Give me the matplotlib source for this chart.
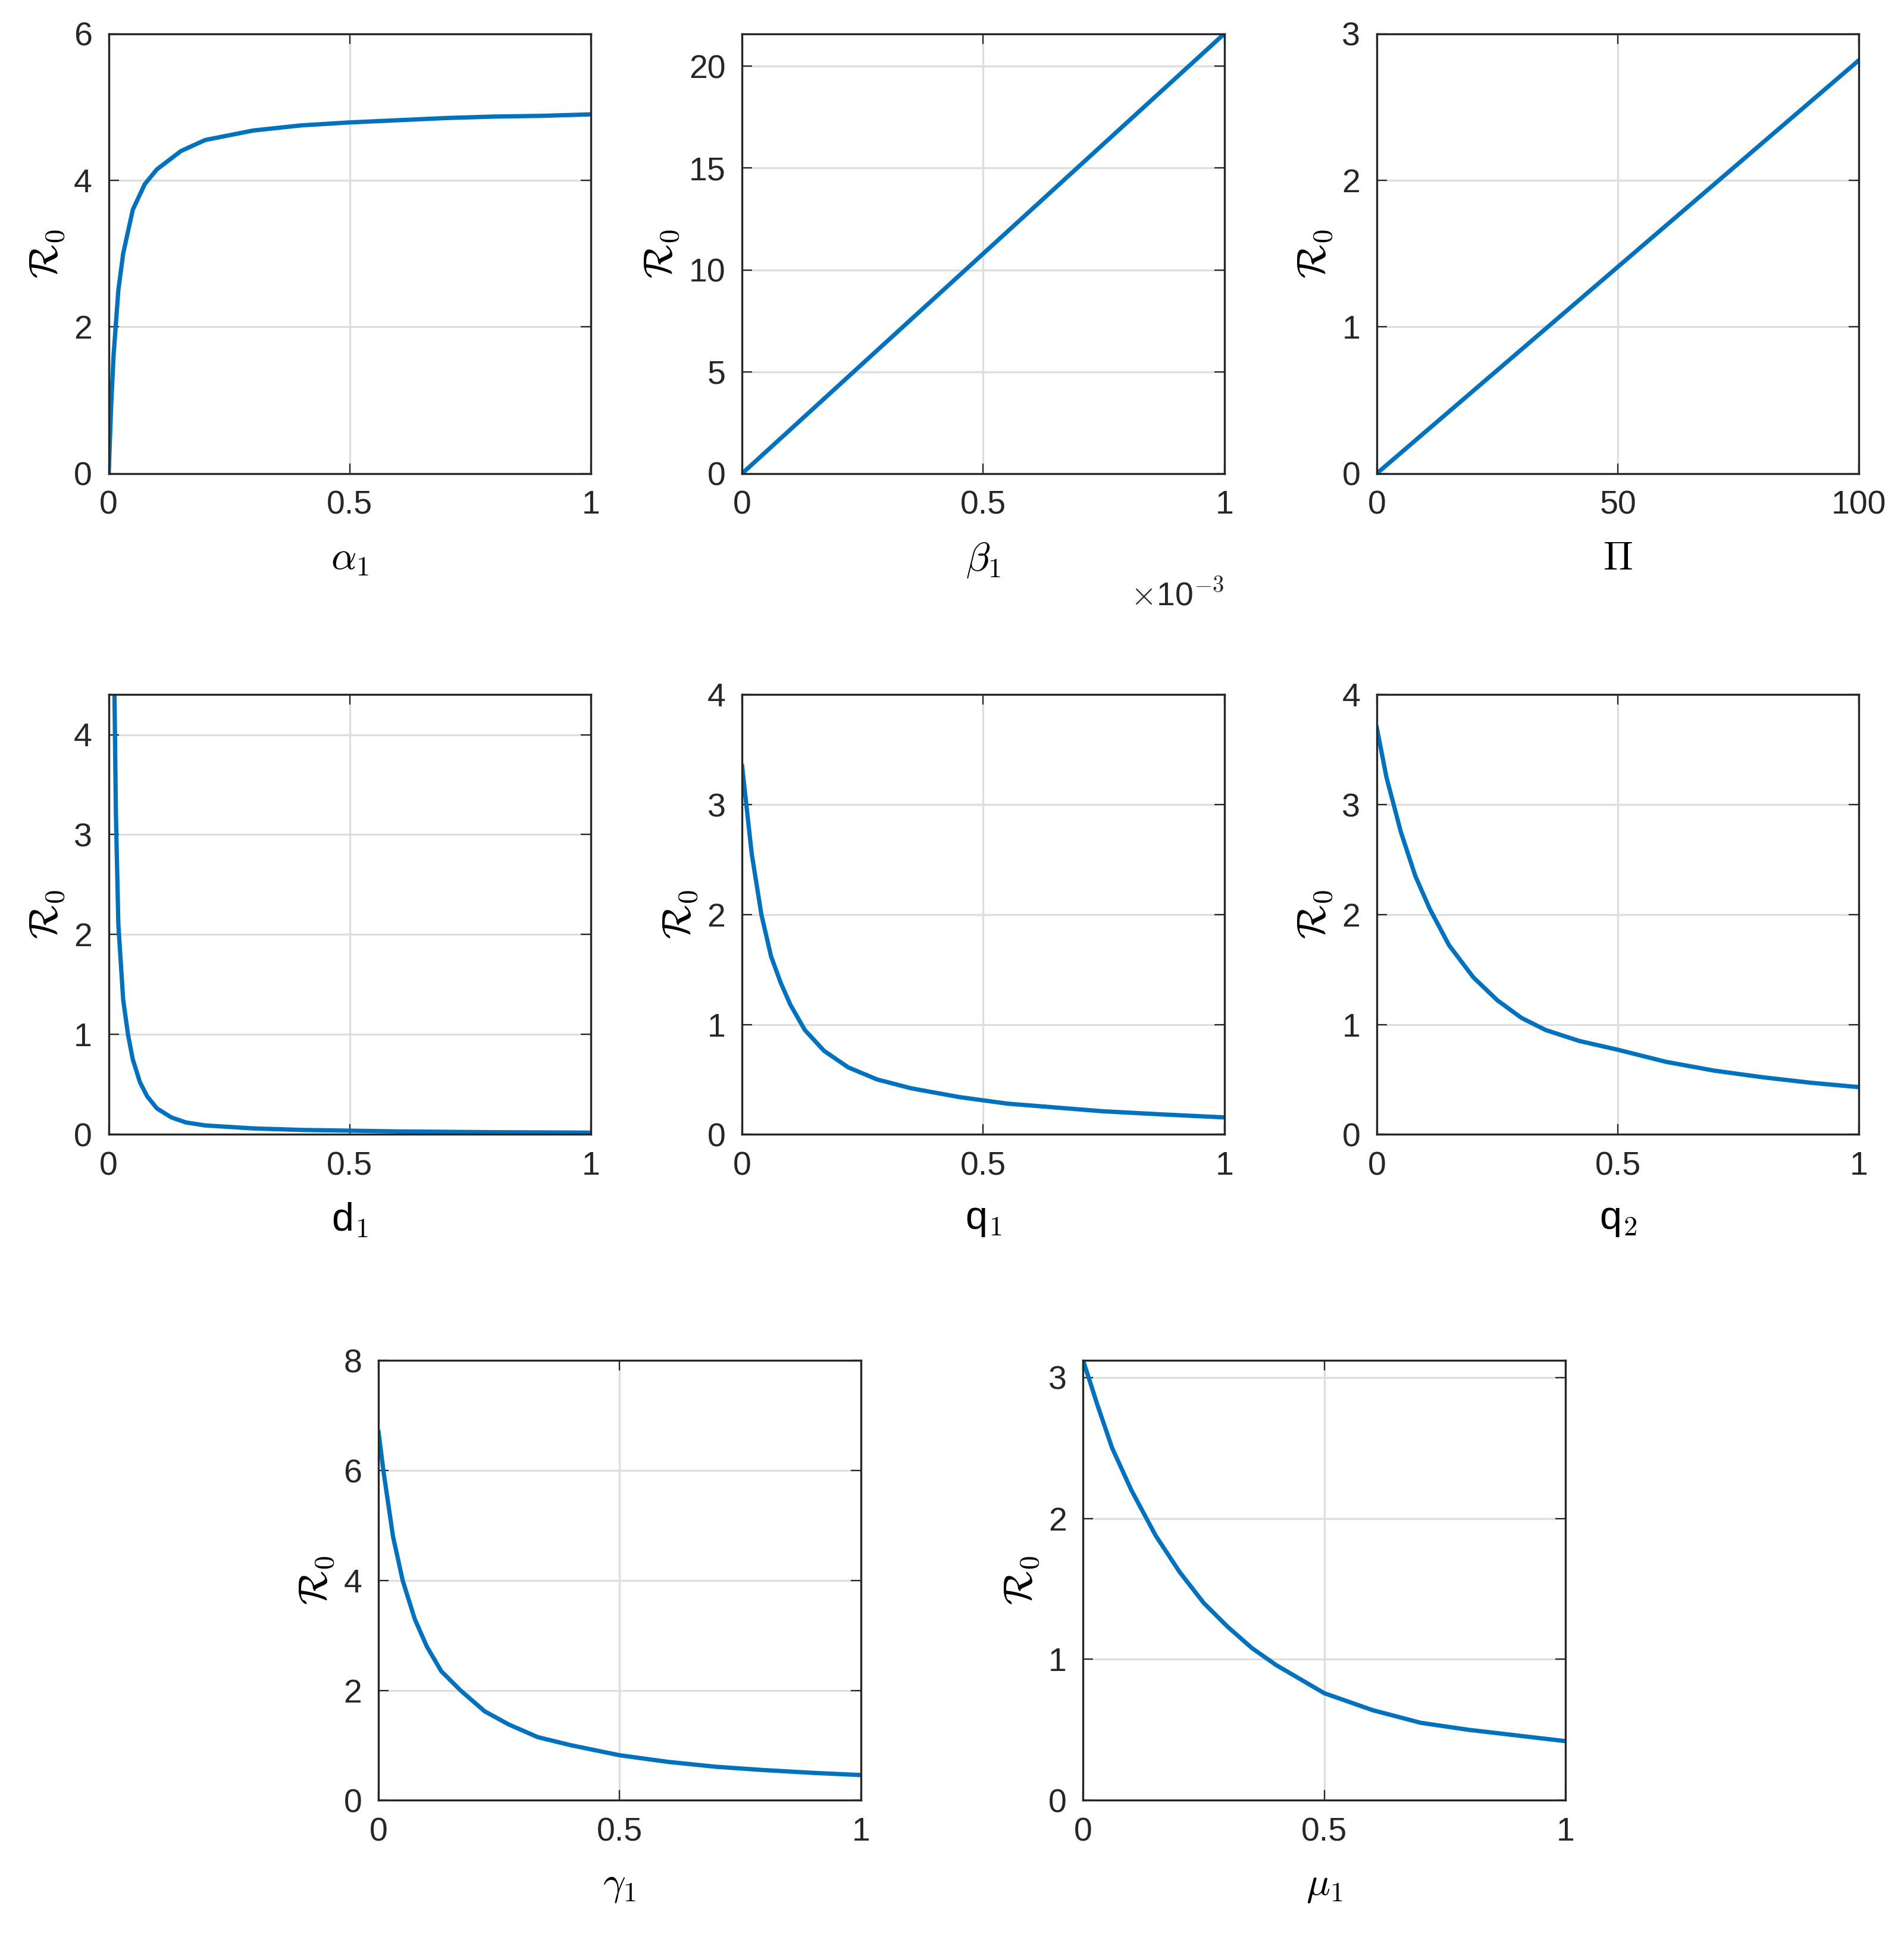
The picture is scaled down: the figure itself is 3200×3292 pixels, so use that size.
import matplotlib
matplotlib.use("Agg")
from matplotlib import pyplot as plt
from matplotlib.ticker import FuncFormatter

plt.rcParams["font.family"] = ["Liberation Sans", "DejaVu Sans"]
plt.rcParams["mathtext.fontset"] = "cm"

LINE = "#0072BD"

alpha_x = [0, 0.005, 0.01, 0.02, 0.03, 0.05, 0.075, 0.1, 0.15, 0.2, 0.3, 0.4, 0.5, 0.6, 0.7, 0.8, 0.9, 1.0]
alpha_y = [0, 0.9, 1.6, 2.5, 3.0, 3.6, 3.95, 4.15, 4.4, 4.55, 4.68, 4.75, 4.79, 4.82, 4.85, 4.87, 4.88, 4.9]

beta_x = [0, 0.001]
beta_y = [0, 21.6]

pi_x = [0, 100]
pi_y = [0, 2.82]

d_x = [0, 0.01, 0.015, 0.02, 0.03, 0.04, 0.05, 0.065, 0.08, 0.1, 0.13, 0.16, 0.2, 0.3, 0.4, 0.6, 0.8, 1.0]
d_y = [9.0, 5.2, 3.2, 2.1, 1.35, 1.0, 0.75, 0.52, 0.38, 0.26, 0.17, 0.12, 0.09, 0.06, 0.045, 0.03, 0.022, 0.018]

q1_x = [0, 0.02, 0.04, 0.06, 0.08, 0.1, 0.13, 0.17, 0.22, 0.28, 0.35, 0.45, 0.55, 0.65, 0.75, 0.88, 1.0]
q1_y = [3.35, 2.55, 2.0, 1.62, 1.38, 1.18, 0.95, 0.76, 0.61, 0.5, 0.42, 0.34, 0.28, 0.245, 0.21, 0.18, 0.155]

q2_x = [0, 0.02, 0.05, 0.08, 0.11, 0.15, 0.2, 0.25, 0.3, 0.35, 0.42, 0.5, 0.6, 0.7, 0.8, 0.9, 1.0]
q2_y = [3.7, 3.25, 2.75, 2.35, 2.05, 1.72, 1.43, 1.22, 1.06, 0.95, 0.85, 0.77, 0.66, 0.58, 0.52, 0.47, 0.43]

g_x = [0, 0.01, 0.03, 0.05, 0.075, 0.1, 0.13, 0.17, 0.22, 0.27, 0.33, 0.4, 0.5, 0.6, 0.7, 0.8, 0.9, 1.0]
g_y = [6.7, 6.0, 4.8, 4.0, 3.3, 2.8, 2.35, 2.0, 1.62, 1.38, 1.15, 1.0, 0.82, 0.7, 0.61, 0.55, 0.5, 0.46]

mu_x = [0, 0.03, 0.06, 0.1, 0.15, 0.2, 0.25, 0.3, 0.35, 0.4, 0.5, 0.6, 0.7, 0.8, 0.9, 1.0]
mu_y = [3.12, 2.8, 2.5, 2.2, 1.88, 1.62, 1.4, 1.23, 1.08, 0.96, 0.76, 0.64, 0.55, 0.5, 0.46, 0.42]

panels = [
    # x, y, xlabel, xlim, xticks, xticklabels, ylim, yticks, rect
    (alpha_x, alpha_y, r"$\alpha_{1}$", (0, 1), [0, 0.5, 1], ["0", "0.5", "1"], (0, 6), [0, 2, 4, 6], (87, 27)),
    (beta_x, beta_y, r"$\beta_{1}$", (0, 0.001), [0, 0.0005, 0.001], ["0", "0.5", "1"], (0, 21.6), [0, 5, 10, 15, 20], (594, 27)),
    (pi_x, pi_y, r"$\Pi$", (0, 100), [0, 50, 100], ["0", "50", "100"], (0, 3), [0, 1, 2, 3], (1102, 27)),
    (d_x, d_y, r"d$_1$", (0, 1), [0, 0.5, 1], ["0", "0.5", "1"], (0, 4.4), [0, 1, 2, 3, 4], (87, 556)),
    (q1_x, q1_y, r"q$_1$", (0, 1), [0, 0.5, 1], ["0", "0.5", "1"], (0, 4), [0, 1, 2, 3, 4], (594, 556)),
    (q2_x, q2_y, r"q$_2$", (0, 1), [0, 0.5, 1], ["0", "0.5", "1"], (0, 4), [0, 1, 2, 3, 4], (1102, 556)),
    (g_x, g_y, r"$\gamma_{1}$", (0, 1), [0, 0.5, 1], ["0", "0.5", "1"], (0, 8), [0, 2, 4, 6, 8], (303, 1089)),
    (mu_x, mu_y, r"$\mu_{1}$", (0, 1), [0, 0.5, 1], ["0", "0.5", "1"], (0, 3.12), [0, 1, 2, 3], (867, 1089)),
]

W, H = 1524.0, 1568.0
fig = plt.figure(figsize=(16, 16.46), dpi=200)

for x, y, xlabel, xlim, xticks, xtl, ylim, yticks, (px, py) in panels:
    ax = fig.add_axes([px / W, 1 - (py + 352) / H, 386 / W, 352 / H])
    ax.plot(x, y, color=LINE, linewidth=2.6)
    ax.set_xlim(*xlim)
    ax.set_ylim(*ylim)
    ax.set_xticks(xticks)
    ax.set_xticklabels(xtl)
    ax.set_yticks(yticks)
    ax.grid(True, color="#dedede", linewidth=1.2)
    ax.set_axisbelow(True)
    ax.tick_params(direction="in", top=True, right=True, labelsize=20, length=6, pad=10, colors="#262626")
    for s in ax.spines.values():
        s.set_color("#262626")
        s.set_linewidth(1.2)
    ax.set_xlabel(xlabel, fontsize=24, labelpad=12)
    ax.set_ylabel(r"$\mathcal{R}_0$", fontsize=24, labelpad=4)
    if xlabel.startswith(r"$\beta"):
        ax.text(1.0, -0.3, r"$\times$10$^{-3}$", transform=ax.transAxes, ha="right", fontsize=20, color="#262626")

fig.savefig("out.png", dpi=200)
